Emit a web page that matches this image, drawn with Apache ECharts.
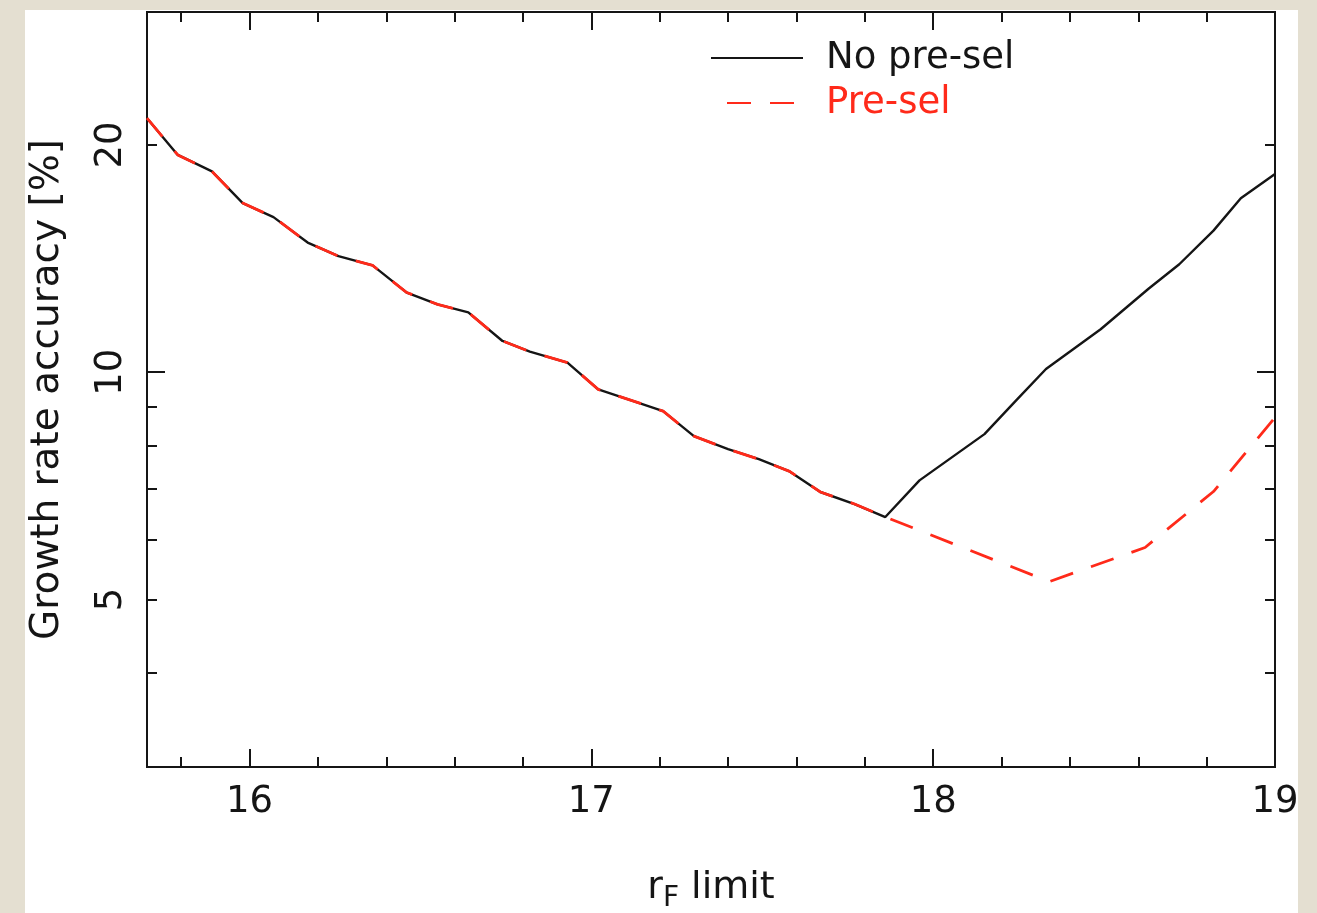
<!DOCTYPE html>
<html><head><meta charset="utf-8">
<script src="https://cdn.jsdelivr.net/npm/echarts@6/dist/echarts.min.js"></script>
<style>
html,body{margin:0;padding:0;width:1317px;height:913px;background:#e4dfd1;overflow:hidden}
#panel{position:absolute;left:25px;top:10px;width:1273px;height:903px;background:#fff}
#chart{width:1273px;height:903px}
</style></head><body>
<div id="panel"><div id="chart"></div></div>
<script>
// ---- data ----
const rLimitNoPreSel = [15.70, 15.79, 15.89, 15.98, 16.07, 16.17, 16.26, 16.36, 16.46, 16.55, 16.64, 16.74, 16.82, 16.93, 17.02, 17.11, 17.21, 17.30, 17.40, 17.49, 17.58, 17.67, 17.77, 17.86, 17.96, 18.15, 18.24, 18.33, 18.49, 18.63, 18.72, 18.82, 18.90, 19.00];
const accNoPreSel   = [21.7, 19.4, 18.45, 16.75, 16.05, 14.85, 14.25, 13.85, 12.75, 12.3, 12.0, 11.0, 10.65, 10.3, 9.49, 9.2, 8.88, 8.23, 7.91, 7.67, 7.39, 6.94, 6.69, 6.43, 7.19, 8.28, 9.15, 10.1, 11.4, 12.9, 13.9, 15.4, 17.0, 18.3];
const rLimitPreSel  = [15.70, 15.79, 15.89, 15.98, 16.07, 16.17, 16.26, 16.36, 16.46, 16.55, 16.64, 16.74, 16.82, 16.93, 17.02, 17.11, 17.21, 17.30, 17.40, 17.49, 17.58, 17.67, 17.77, 17.86, 18.34, 18.62, 18.82, 19.00];
const accPreSel     = [21.7, 19.4, 18.45, 16.75, 16.05, 14.85, 14.25, 13.85, 12.75, 12.3, 12.0, 11.0, 10.65, 10.3, 9.49, 9.2, 8.88, 8.23, 7.91, 7.67, 7.39, 6.94, 6.69, 6.43, 5.28, 5.86, 6.95, 8.71];
const seriesNames   = ['No pre-sel', 'Pre-sel'];
const xRange        = [15.7, 19];
const yRange        = [3, 30];
const xLabelTicks   = [16, 17, 18, 19];
const xMinorTicks   = [15.8, 16.0, 16.2, 16.4, 16.6, 16.8, 17.0, 17.2, 17.4, 17.6, 17.8, 18.0, 18.2, 18.4, 18.6, 18.8, 19.0];
const yLabelValues  = [5, 10, 20];
const yMajorTicks   = [10];
const yMinorTicks   = [3, 4, 5, 6, 7, 8, 9, 20, 30];
const xTitle        = 'r{sub|F} limit';
const yTitle        = 'Growth rate accuracy [%]';

const FONT = 'DejaVu Sans';
const INK = '#151515';
const RED = '#ff2a1a';

function xAxisDef(pos, ticks, len, withLabels) {
  return {
    type: 'value', position: pos, min: xRange[0], max: xRange[1],
    axisLine: { show: true, onZero: false, lineStyle: { color: INK, width: 2 } },
    axisTick: { show: true, inside: true, length: len, customValues: ticks, lineStyle: { color: INK, width: 2 } },
    axisLabel: withLabels ? { show: true, customValues: xLabelTicks, fontFamily: FONT, fontSize: 37, color: INK, margin: 17 } : { show: false },
    splitLine: { show: false }
  };
}
function yAxisDef(pos, ticks, len, withLabels) {
  return {
    type: 'log', logBase: 10, position: pos, min: yRange[0], max: yRange[1],
    axisLine: { show: true, onZero: false, lineStyle: { color: INK, width: 2 } },
    axisTick: { show: true, inside: true, length: len, customValues: ticks, lineStyle: { color: INK, width: 2 } },
    axisLabel: withLabels ? { show: true, customValues: yLabelValues, rotate: 90, fontFamily: FONT, fontSize: 37, color: INK, margin: 17 } : { show: false },
    splitLine: { show: false }, minorTick: { show: false }
  };
}

const xAxes = [
  xAxisDef('bottom', xLabelTicks, 18, true),
  xAxisDef('bottom', xMinorTicks, 10, false),
  xAxisDef('top', xLabelTicks, 18, false),
  xAxisDef('top', xMinorTicks, 10, false)
];
Object.assign(xAxes[0], {
  name: xTitle, nameLocation: 'middle', nameGap: 96,
  nameTextStyle: { fontFamily: FONT, fontSize: 38, color: INK,
    rich: { sub: { fontFamily: FONT, fontSize: 28, color: INK, verticalAlign: 'bottom', padding: [22, 0, 0, 0] } } }
});
const yAxes = [
  yAxisDef('left', yMajorTicks, 18, true),
  yAxisDef('left', yMinorTicks, 10, false),
  yAxisDef('right', yMajorTicks, 18, false),
  yAxisDef('right', yMinorTicks, 10, false)
];
Object.assign(yAxes[0], {
  name: yTitle, nameLocation: 'middle', nameGap: 80, nameRotate: 90,
  nameTextStyle: { fontFamily: FONT, fontSize: 39, color: INK }
});

const chart = echarts.init(document.getElementById('chart'), null, { renderer: 'canvas' });
chart.setOption({
  animation: false,
  backgroundColor: '#ffffff',
  grid: { left: 122, right: 23, top: 2, bottom: 146, containLabel: false, outerBoundsMode: 'none' },
  xAxis: xAxes,
  yAxis: yAxes,
  legend: {
    orient: 'vertical', left: 685, top: 28, padding: 0, itemWidth: 92, itemHeight: 20, itemGap: 5,
    itemStyle: { opacity: 0 },
    textStyle: { fontFamily: FONT, fontSize: 37, lineHeight: 40, padding: [0, 0, 0, 18] },
    data: [
      { name: seriesNames[0], textStyle: { color: INK } },
      { name: seriesNames[1], textStyle: { color: RED }, lineStyle: { dashOffset: 27 } }
    ]
  },
  series: [
    {
      name: seriesNames[0], type: 'line', xAxisIndex: 0, yAxisIndex: 0, z: 2,
      data: rLimitNoPreSel.map((x, i) => [x, accNoPreSel[i]]),
      symbol: 'none', lineStyle: { color: INK, width: 2.4 }, itemStyle: { color: INK }
    },
    {
      name: seriesNames[1], type: 'line', xAxisIndex: 0, yAxisIndex: 0, z: 3,
      data: rLimitPreSel.map((x, i) => [x, accPreSel[i]]),
      symbol: 'none', lineStyle: { color: RED, width: 2.8, type: [24, 19] }, itemStyle: { color: RED }
    }
  ]
});
</script>
</body></html>
